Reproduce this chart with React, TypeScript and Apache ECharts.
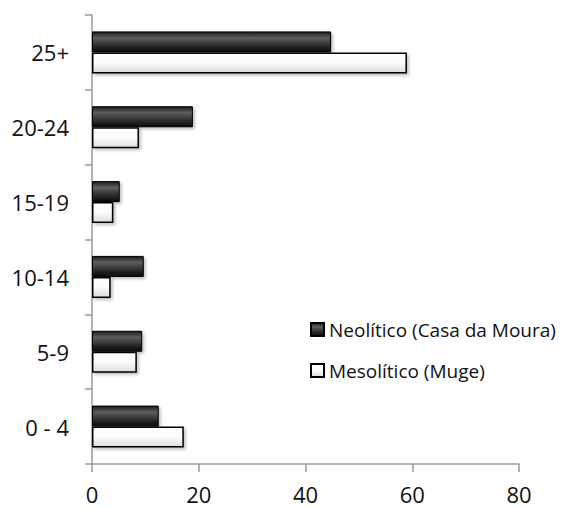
import React, { useEffect, useRef } from "react";
import * as echarts from "echarts";

const categories = ["0 - 4", "5-9", "10-14", "15-19", "20-24", "25+"];
const neoliticoValues = [12.5, 9.4, 9.7, 5.2, 18.9, 44.8];
const mesoliticoValues = [17.2, 8.4, 3.5, 4.0, 8.8, 59.0];
const xTicks = [0, 20, 40, 60, 80];
const neoName = "Neolítico (Casa da Moura)";
const mesoName = "Mesolítico (Muge)";

const FONT = "Open Sans";

export default function App() {
  const ref = useRef<HTMLDivElement>(null);
  useEffect(() => {
    if (!ref.current) return;
    const chart = echarts.init(ref.current, null, { renderer: "svg" });
    const neoGrad = new echarts.graphic.LinearGradient(0, 0, 0, 1, [
      { offset: 0, color: "#1c1c1c" },
      { offset: 0.3, color: "#5e5e5e" },
      { offset: 0.7, color: "#2a2a2a" },
      { offset: 1, color: "#0a0a0a" },
    ]);
    const mesoGrad = new echarts.graphic.LinearGradient(0, 0, 0, 1, [
      { offset: 0, color: "#ffffff" },
      { offset: 0.5, color: "#fbfbfb" },
      { offset: 1, color: "#dcdcdc" },
    ]);
    chart.setOption({
      animation: false,
      backgroundColor: "#ffffff",
      grid: { left: 92, right: 46, top: 15, bottom: 44, containLabel: false },
      legend: {
        orient: "vertical",
        left: 305,
        top: 315,
        icon: "rect",
        itemWidth: 13,
        itemHeight: 13,
        itemGap: 22,
        data: [neoName, mesoName],
        textStyle: { fontFamily: FONT, fontSize: 19, color: "#111" },
      },
      xAxis: {
        type: "value",
        min: 0,
        max: 80,
        interval: 20,
        axisLine: { show: true, lineStyle: { color: "#9a9a9a", width: 1.5 } },
        axisTick: { show: true, length: 8, lineStyle: { color: "#9a9a9a", width: 1.5 } },
        splitLine: { show: false },
        axisLabel: {
          margin: 19,
          fontFamily: FONT,
          fontSize: 22,
          color: "#111",
          formatter: (v: number) => (xTicks.includes(v) ? String(v) : ""),
        },
      },
      yAxis: {
        type: "category",
        data: categories,
        axisLine: { show: true, lineStyle: { color: "#9a9a9a", width: 1.5 } },
        axisTick: { show: true, length: 7, inside: false, lineStyle: { color: "#9a9a9a", width: 1.5 } },
        axisLabel: { margin: 23, fontFamily: FONT, fontSize: 22, color: "#111" },
      },
      series: [
        {
          name: neoName,
          type: "bar",
          data: neoliticoValues,
          barWidth: 21,
          barGap: "0%",
          itemStyle: {
            color: neoGrad,
            borderColor: "#000",
            borderWidth: 1,
            shadowColor: "rgba(0,0,0,0.25)",
            shadowBlur: 3,
            shadowOffsetX: 2,
            shadowOffsetY: 2,
          },
        },
        {
          name: mesoName,
          type: "bar",
          data: mesoliticoValues,
          barWidth: 21,
          barGap: "0%",
          itemStyle: {
            color: mesoGrad,
            borderColor: "#000",
            borderWidth: 1.5,
            shadowColor: "rgba(0,0,0,0.25)",
            shadowBlur: 3,
            shadowOffsetX: 2,
            shadowOffsetY: 2,
          },
        },
      ],
    });
    return () => chart.dispose();
  }, []);
  return <div ref={ref} style={{ width: 565, height: 508, position: "absolute", left: 0, top: 0 }} />;
}
